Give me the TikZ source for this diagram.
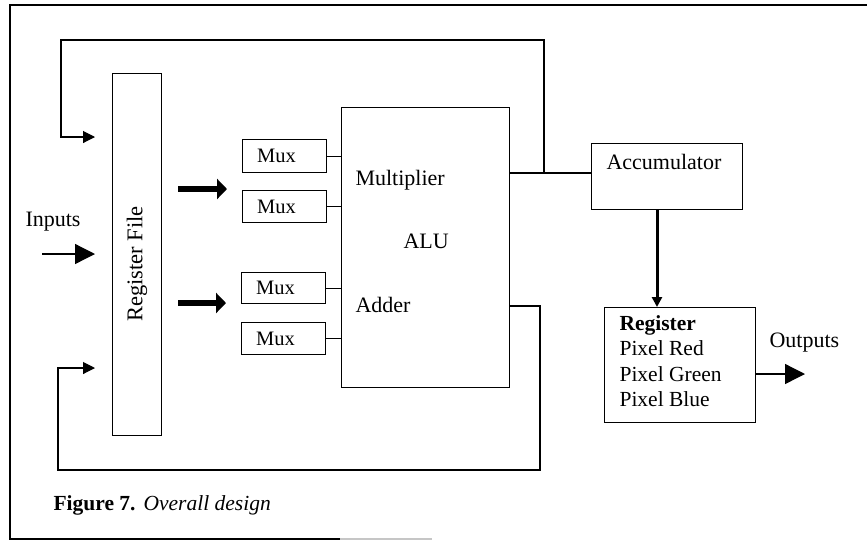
\documentclass[tikz,border=0pt]{standalone}
\usepackage{fontspec}
\setmainfont{Liberation Serif}
\usetikzlibrary{arrows.meta,calc}
\begin{document}
\begin{tikzpicture}[x=1pt,y=-1pt,line width=1.1pt,
  every node/.style={font=\fontsize{22}{26}\selectfont},
  box/.style={draw,line width=1.1pt,inner sep=0pt,anchor=north west},
  lbl/.style={inner sep=0pt,anchor=west},
  muxtext/.style={font=\fontsize{20.5}{24}\selectfont},
  fbarrow/.style={-{Triangle[length=12pt,width=12pt]}},
  bigarrow/.style={line width=6pt,-{Triangle[length=10pt,width=20pt]}},
  ioarrow/.style={line width=1.3pt,-{Triangle[length=20pt,width=20pt]}}]
\useasboundingbox (0,0) rectangle (867,542);
% frame
\draw[line width=1.5pt] (340,539) -- (10,539) -- (10,5) -- (867,5);
\draw[line width=1.2pt,gray!45] (340,539) -- (432,539);
% blocks
\node[box,minimum width=49pt,minimum height=362pt] (rf) at (112,73) {};
\node[inner sep=0pt,rotate=90,font=\fontsize{22.5}{26}\selectfont] (rftext) at (137,264) {Register File};
\node[box,minimum width=84pt,minimum height=33pt] (m1) at (242,139) {};
\node[box,minimum width=84pt,minimum height=32pt] (m2) at (242,190) {};
\node[box,minimum width=84pt,minimum height=31pt] (m3) at (241,272) {};
\node[box,minimum width=84pt,minimum height=32pt] (m4) at (241,322) {};
\node[muxtext] (m1t) at ([xshift=-8pt]m1.center) {Mux};
\node[muxtext] (m2t) at ([xshift=-8pt]m2.center) {Mux};
\node[muxtext] (m3t) at ([xshift=-8pt]m3.center) {Mux};
\node[muxtext] (m4t) at ([xshift=-8pt]m4.center) {Mux};
\node[box,minimum width=168pt,minimum height=280pt] (alu) at (341,107) {};
\node[lbl] (mult) at (355,180) {Multiplier};
\node[lbl] (alut) at (403,241) {ALU};
\node[lbl] (add) at (355,305) {Adder};
\node[box,minimum width=151pt,minimum height=66pt] (acc) at (591,143) {};
\node[lbl] (acct) at (606,162) {Accumulator};
\node[box,minimum width=151pt,minimum height=115pt] (reg) at (604,307) {};
\node[inner sep=0pt,anchor=north west,align=left,font=\fontsize{21.5}{25.5}\selectfont] (regt) at (619,315)
  {\textbf{Register}\\Pixel Red\\Pixel Green\\Pixel Blue};
\node[lbl] (outt) at (769,343) {Outputs};
\node[lbl] (inpt) at (25,222) {Inputs};
\node[lbl,font=\fontsize{21.5}{26}\selectfont] (cap) at (53,505) {\textbf{Figure 7.}\hspace{8pt}\textit{Overall design}};
% mux to ALU
\foreach \m in {m1,m2,m3,m4} \draw (\m.east) -- (\m.east -| alu.west);
% ALU to accumulator
\coordinate (jt) at (544,173);
\draw (alu.east |- jt) -- (acc.west |- jt);
% feedback top
\coordinate (fbt) at (95,137);
\draw[fbarrow] (jt) -- (544,40) -- (61,40) -- (61,137) -- (fbt);
% feedback bottom
\coordinate (fbb) at (95,368);
\draw[fbarrow] (alu.east |- 0,306) -- (540,306) -- (540,470) -- (58,470) -- (58,368) -- (fbb);
% big arrows from register file
\draw[bigarrow] ($(rf.east |- 0,189)+(16,0)$) -- ($(m1.west |- 0,189)+(-15,0)$);
\draw[bigarrow] ($(rf.east |- 0,303)+(16,0)$) -- ($(m3.west |- 0,303)+(-15,0)$);
% inputs
\draw[ioarrow] ($(rf.west |- 0,254)+(-70,0)$) -- ($(rf.west |- 0,254)+(-17,0)$);
% accumulator to register
\draw[line width=3pt,-{Triangle[length=10pt,width=10pt]}] (acc.south -| 657,0) -- (reg.north -| 657,0);
% outputs
\draw[ioarrow] (reg.east |- 0,374) -- (805,374);
\end{tikzpicture}
\end{document}
